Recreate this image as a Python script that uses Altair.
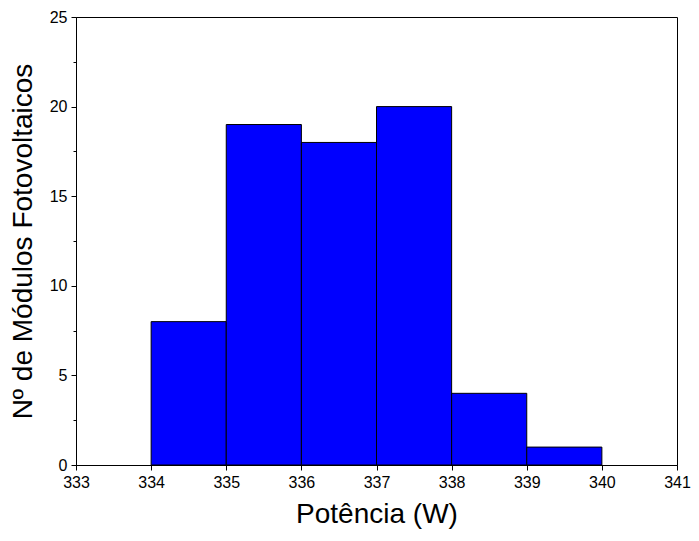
import altair as alt
import pandas as pd

bin_start = [334, 335, 336, 337, 338, 339]
bin_end = [335, 336, 337, 338, 339, 340]
counts = [8, 19, 18, 20, 4, 1]
x_ticks = [333, 334, 335, 336, 337, 338, 339, 340, 341]
y_major = [0, 5, 10, 15, 20, 25]
y_minor = [2.5, 7.5, 12.5, 17.5, 22.5]

df = pd.DataFrame({"start": bin_start, "end": bin_end, "count": counts})

FONT = "Liberation Sans"

xscale = alt.Scale(domain=[333, 341], nice=False, zero=False)
yscale = alt.Scale(domain=[0, 25], nice=False)

bars = alt.Chart(df).mark_rect(color="#0000FF", stroke="black", strokeWidth=1).encode(
    x=alt.X("start:Q", scale=xscale,
            axis=alt.Axis(values=x_ticks, title="Potência (W)", format="d",
                          labelFont=FONT, labelFontSize=16, labelColor="black",
                          labelFlush=False,
                          titleFont=FONT, titleFontSize=28, titleFontWeight="normal",
                          titleColor="black", titlePadding=10,
                          domainColor="black", tickColor="black", tickSize=5,
                          grid=False, labelPadding=4)),
    x2="end:Q",
    y=alt.Y("count:Q", scale=yscale,
            axis=alt.Axis(values=y_major, title="Nº de Módulos Fotovoltaicos",
                          labelFont=FONT, labelFontSize=16, labelColor="black",
                          labelFlush=False,
                          titleFont=FONT, titleFontSize=28, titleFontWeight="normal",
                          titleColor="black", titlePadding=12,
                          domainColor="black", tickColor="black", tickSize=5,
                          grid=False, labelPadding=4)),
    y2=alt.Y2(datum=0),
)

minor_df = pd.DataFrame({"v": y_minor})
minor = alt.Chart(minor_df).mark_point(opacity=0).encode(
    y=alt.Y("v:Q", scale=yscale,
            axis=alt.Axis(values=y_minor, labels=False, title=None, domain=False,
                          orient="left",
                          tickColor="black", tickSize=3, grid=False))
)

chart = alt.layer(bars, minor).resolve_axis(y="independent").properties(
    width=601, height=448,
    autosize=alt.AutoSizeParams(type="none"),
    padding={"left": 68, "top": 9, "right": 14, "bottom": 68},
).configure_view(stroke="black", strokeWidth=1).configure_axis(domainWidth=1)

chart.save("out.html", embed_options={"renderer": "svg", "actions": False})
